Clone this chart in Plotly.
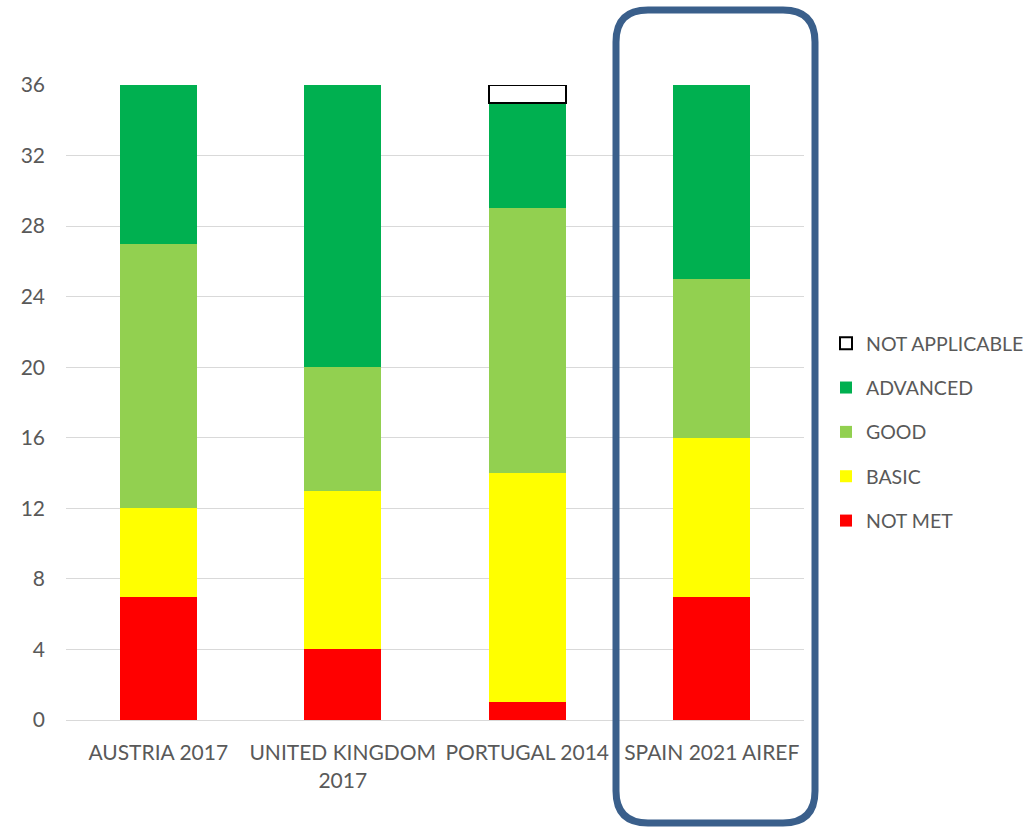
import plotly.graph_objects as go

categories = ["AUSTRIA 2017", "UNITED KINGDOM<br>2017", "PORTUGAL 2014", "SPAIN 2021 AIREF"]
not_met = [7, 4, 1, 7]
basic = [5, 9, 13, 9]
good = [15, 7, 15, 9]
advanced = [9, 16, 6, 11]
not_applicable = [0, 0, 1, 0]
y_ticks = [0, 4, 8, 12, 16, 20, 24, 28, 32, 36]

series = [
    ("NOT MET", not_met, "#FF0000", None, 5),
    ("BASIC", basic, "#FFFF00", None, 4),
    ("GOOD", good, "#92D050", None, 3),
    ("ADVANCED", advanced, "#00B050", None, 2),
    ("NOT APPLICABLE", not_applicable, "#FFFFFF", "#000000", 1),
]

fig = go.Figure()
for name, vals, color, edge, rank in series:
    fig.add_trace(go.Bar(
        x=categories, y=[v if v else None for v in vals], name=name,
        legendgroup=name, legendrank=rank,
        marker=dict(color=color,
                    line=dict(color=edge if edge else color, width=2 if edge else 0)),
    ))

font_family = "Lato, Open Sans, sans-serif"
FS = 21
fig.update_layout(
    barmode="stack",
    bargap=0.583,
    width=1033, height=829,
    margin=dict(l=66, r=229, t=85, b=109, autoexpand=False),
    plot_bgcolor="white", paper_bgcolor="white",
    font=dict(family=font_family, size=FS, color="#595959"),
    showlegend=True,
    legend=dict(
        traceorder="grouped",
        tracegroupgap=16,
        xref="container", yref="container",
        x=826 / 1033, xanchor="left", y=1 - 432 / 829, yanchor="middle",
        font=dict(size=19.5, color="#595959"),
        itemwidth=30,
    ),
    xaxis=dict(showgrid=False, showline=True, linecolor="#D9D9D9", linewidth=1,
               ticks="", tickfont=dict(size=FS), ticklabelstandoff=14),
    yaxis=dict(range=[0, 36], tickvals=y_ticks, showgrid=True, gridcolor="#D9D9D9",
               gridwidth=1, zeroline=False, ticks="", tickfont=dict(size=FS),
               ticklabelstandoff=20),
)

# Rounded rectangle highlighting Spain (paper coords)
W, H = 738.0, 635.0
x0, x1 = (616 - 66) / W, (815 - 66) / W
y0, y1 = (720 - 823) / H, (720 - 10) / H
rx, ry = 32 / W, 32 / H
path = (f"M {x0+rx},{y1} L {x1-rx},{y1} Q {x1},{y1} {x1},{y1-ry} "
        f"L {x1},{y0+ry} Q {x1},{y0} {x1-rx},{y0} "
        f"L {x0+rx},{y0} Q {x0},{y0} {x0},{y0+ry} "
        f"L {x0},{y1-ry} Q {x0},{y1} {x0+rx},{y1} Z")
fig.add_shape(type="path", path=path, xref="paper", yref="paper",
              line=dict(color="#3A5F8B", width=7), fillcolor="rgba(0,0,0,0)", layer="above")

fig.write_html("out.html")
